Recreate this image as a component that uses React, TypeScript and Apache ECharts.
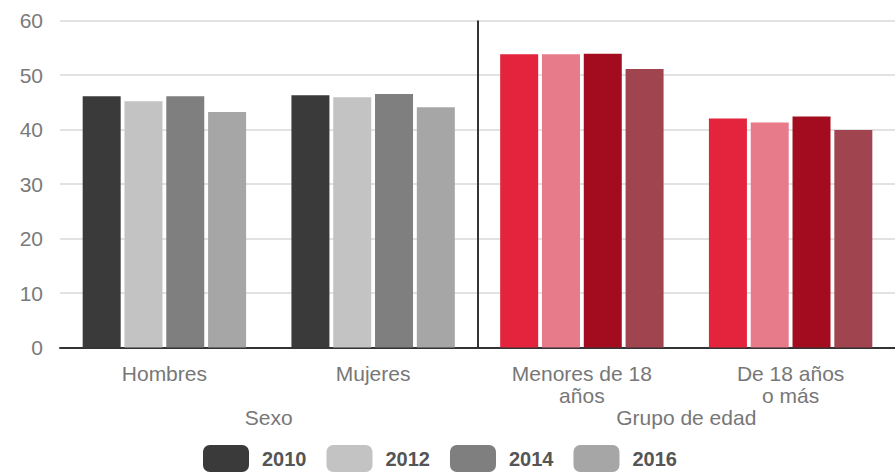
import React, { useEffect, useRef } from "react";
import * as echarts from "echarts";

const categories = ["Hombres", "Mujeres", "Menores de 18\naños", "De 18 años\no más"];
const groups = ["Sexo", "Grupo de edad"];
const years = ["2010", "2012", "2014", "2016"];
const v2010 = [46.1, 46.3, 53.8, 42.0];
const v2012 = [45.2, 45.9, 53.8, 41.3];
const v2014 = [46.1, 46.5, 53.9, 42.4];
const v2016 = [43.2, 44.1, 51.1, 39.9];
const greys = ["#3a3a3a", "#c3c3c3", "#7f7f7f", "#a6a6a6"];
const reds = ["#e3243c", "#e77b89", "#a30c1f", "#a0444f"];
const yTicks = [0, 10, 20, 30, 40, 50, 60];
// separator between the two groups, in category units (boundary after 2 categories)
const separatorAt = [2];

const seriesValues = [v2010, v2012, v2014, v2016];

export default function App() {
  const ref = useRef<HTMLDivElement>(null);
  useEffect(() => {
    document.body.style.margin = "0";
    const chart = echarts.init(ref.current!, null, { renderer: "svg" });
    const font = "'Liberation Sans', Arial, sans-serif";
    chart.setOption({
      animation: false,
      grid: { left: 60, top: 20.5, width: 840, height: 327 },
      legend: {
        left: 198,
        top: 440,
        itemWidth: 46,
        itemHeight: 27,
        itemGap: 20,
        icon: "roundRect",
        textStyle: {
          fontFamily: font,
          fontSize: 20,
          fontWeight: "bold",
          color: "#555",
          padding: [0, 0, 0, 8],
        },
        data: years,
      },
      xAxis: [
        {
          type: "category",
          data: categories,
          axisLine: { show: true, lineStyle: { color: "#333", width: 2 } },
          axisTick: { show: false },
          axisLabel: {
            fontFamily: font,
            fontSize: 21,
            color: "#777",
            margin: 15,
            lineHeight: 22,
            interval: 0,
          },
        },
        {
          type: "category",
          data: groups,
          position: "bottom",
          axisLine: { show: false },
          axisTick: { show: false },
          axisLabel: {
            fontFamily: font,
            fontSize: 21,
            color: "#777",
            margin: 59,
            interval: 0,
          },
        },
        {
          type: "value",
          min: 0,
          max: categories.length,
          show: false,
        },
      ],
      yAxis: {
        type: "value",
        min: yTicks[0],
        max: yTicks[yTicks.length - 1],
        interval: 10,
        axisLine: { show: false },
        axisTick: { show: false },
        axisLabel: { fontFamily: font, fontSize: 21, color: "#7a7a7a", margin: 17 },
        splitLine: { lineStyle: { color: "#e2e2e2", width: 2 } },
      },
      series: [
        ...years.map((y, si) => ({
          name: y,
          type: "bar",
          xAxisIndex: 0,
          barWidth: 38,
          barGap: "10%",
          itemStyle: { color: greys[si] },
          data: seriesValues[si].map((v, ci) => ({
            value: v,
            itemStyle: { color: ci < 2 ? greys[si] : reds[si] },
          })),
        })),
        {
          name: "sep",
          type: "line",
          xAxisIndex: 2,
          data: [],
          silent: true,
          markLine: {
            silent: true,
            symbol: "none",
            label: { show: false },
            lineStyle: { color: "#333", width: 2, type: "solid" },
            data: separatorAt.map((x) => ({ xAxis: x })),
          },
        },
      ],
    });
    return () => chart.dispose();
  }, []);
  return <div ref={ref} style={{ width: 895, height: 474 }} />;
}
